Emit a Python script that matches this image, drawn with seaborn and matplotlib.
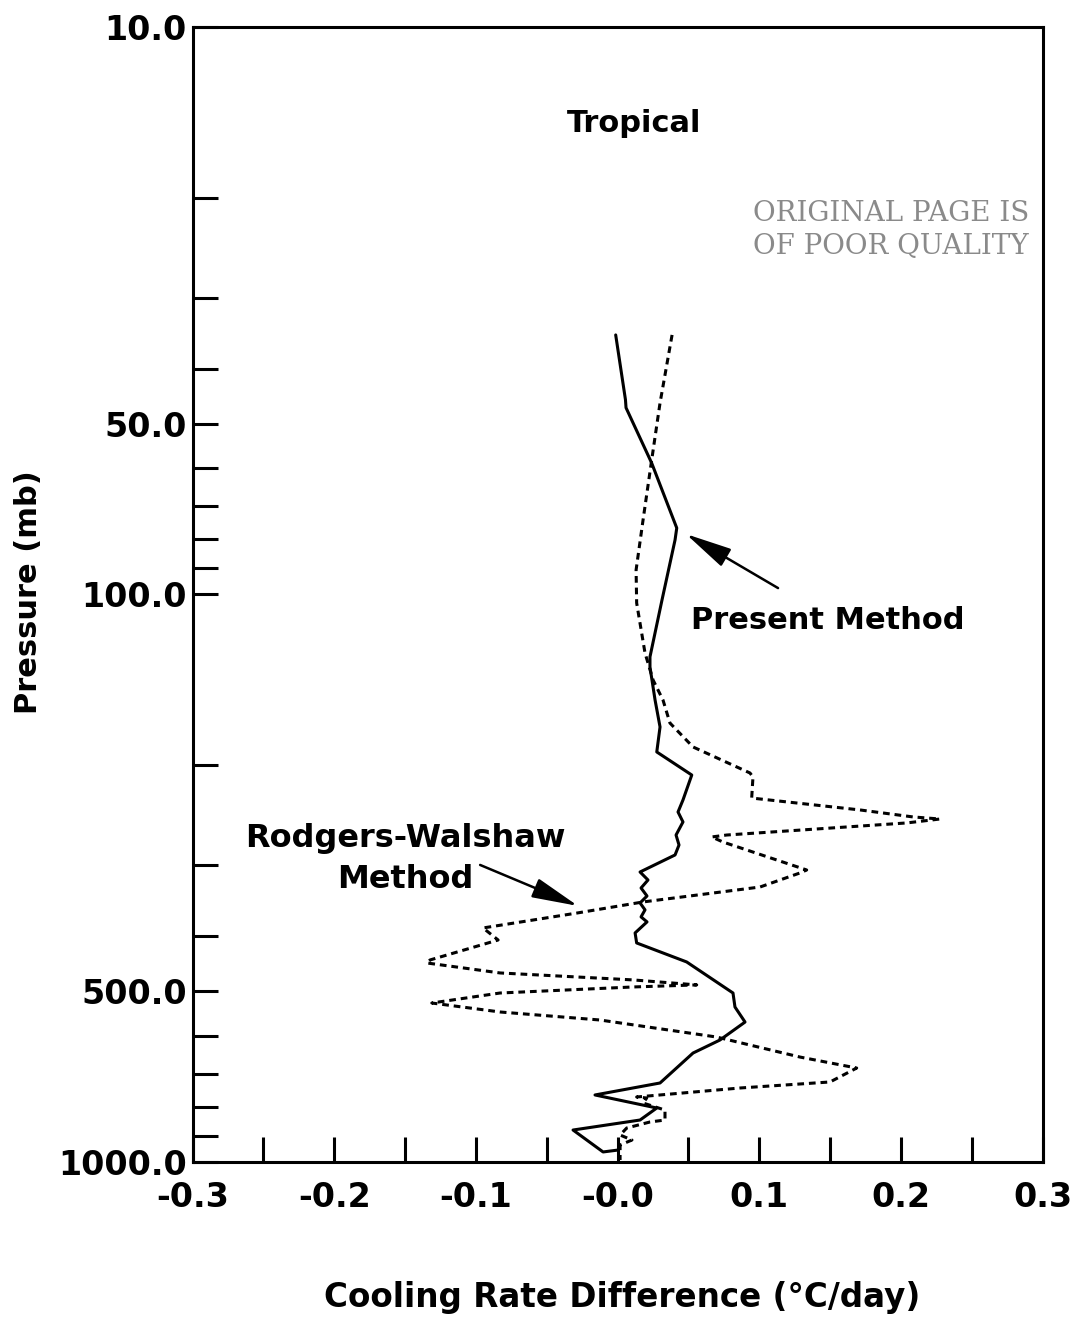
import numpy as np
import pandas as pd
import matplotlib
matplotlib.use("Agg")
import matplotlib.pyplot as plt
from matplotlib.ticker import FixedLocator, FixedFormatter, NullFormatter
import seaborn as sns

# Present method: cooling-rate difference (deg C/day) vs pressure (mb)
present_diff = [-0.0013, 0.0056, 0.0060, 0.0241, 0.0418, 0.0406, 0.0314, 0.0229,
                0.0229, 0.0265, 0.0300, 0.0277, 0.0524, 0.0462, 0.0427, 0.0462,
                0.0413, 0.0434, 0.0406, 0.0159, 0.0215, 0.0166, 0.0208, 0.0159,
                0.0194, 0.0166, 0.0208, 0.0124, 0.0135, 0.0488, 0.0815, 0.0829,
                0.0900, 0.0723, 0.0533, 0.0300, -0.0159, 0.0277, 0.0159, -0.0314,
                -0.0102, 0.0004]
present_p = [34.9, 45.4, 46.9, 58.7, 76.4, 80.2, 102.3, 128.9,
             134.3, 153.6, 171.3, 189.6, 208.2, 230.4, 241.9, 251.9,
             265.6, 276.6, 288.0, 308.6, 318.8, 329.3, 340.2, 349.9,
             359.9, 370.3, 377.9, 395.2, 411.6, 444.6, 504.3, 533.8,
             567.4, 610.3, 643.4, 726.6, 762.8, 804.2, 844.4, 879.4,
             961.3, 953.8]

# Rodgers-Walshaw method
rw_diff = [0.0385, 0.0300, 0.0241, 0.0180, 0.0131, 0.0135, 0.0194, 0.0251,
           0.0321, 0.0370, 0.0533, 0.0935, 0.0956, 0.0947, 0.1711, 0.2085,
           0.2276, 0.2041, 0.0771, 0.0665, 0.0745, 0.1335, 0.1288, 0.1006,
           0.0180, -0.0288, -0.0949, -0.0843, -0.1323, -0.1347, -0.0829, 0.0109,
           0.0559, 0.0109, -0.0829, -0.1311, -0.0829, -0.0124, 0.0700, 0.1288,
           0.1688, 0.1500, 0.0865, 0.0135, 0.0206, 0.0180, 0.0335, 0.0335,
           0.0229, 0.0065, 0.0018, 0.0102, 0.0018, 0.0018]
rw_p = [34.9, 46.0, 58.0, 74.0, 90.6, 103.6, 126.9, 141.6,
        153.6, 168.6, 185.8, 206.5, 209.9, 228.6, 239.9, 246.8,
        248.9, 252.9, 265.6, 267.7, 273.3, 306.1, 309.8, 328.0,
        348.5, 364.6, 387.3, 406.7, 441.0, 446.4, 464.9, 478.2,
        488.0, 492.1, 504.3, 525.2, 544.7, 562.7, 603.0, 654.0,
        683.8, 723.6, 741.5, 769.1, 772.2, 788.1, 811.0, 844.4,
        851.2, 872.2, 897.4, 915.8, 934.5, 993.1]

# Axis ticks and labels
p_major = [10, 50, 100, 500, 1000]
p_major_labels = ["10.0", "50.0", "100.0", "500.0", "1000.0"]
p_minor = [20, 30, 40, 60, 70, 80, 90, 200, 300, 400, 600, 700, 800, 900]
x_major = [-0.3, -0.2, -0.1, 0.0, 0.1, 0.2, 0.3]
x_major_labels = ["-0.3", "-0.2", "-0.1", "-0.0", "0.1", "0.2", "0.3"]
x_minor = [-0.25, -0.15, -0.05, 0.05, 0.15, 0.25]

sns.set_theme(style="ticks")
plt.rcParams["font.family"] = ["DejaVu Sans"]
plt.rcParams["font.weight"] = "bold"
plt.rcParams["axes.labelweight"] = "bold"

fig = plt.figure(figsize=(10.78, 13.21), dpi=100)
ax = fig.add_axes([0.1786, 0.1206, 0.7885, 0.859])
ax.set_yscale("log")

present = pd.DataFrame({"diff": present_diff, "p": present_p})
rw = pd.DataFrame({"diff": rw_diff, "p": rw_p})

lw = 2.2
sns.lineplot(data=present, x="diff", y="p", sort=False, estimator=None,
             color="black", linewidth=lw, ax=ax)
sns.lineplot(data=rw, x="diff", y="p", sort=False, estimator=None,
             color="black", linewidth=lw, linestyle=(0, (2.2, 1.6)), ax=ax)

ax.set_xlim(-0.3, 0.3)
ax.set_ylim(1000, 10)

ax.yaxis.set_major_locator(FixedLocator(p_major))
ax.yaxis.set_major_formatter(FixedFormatter(p_major_labels))
ax.yaxis.set_minor_locator(FixedLocator(p_minor))
ax.yaxis.set_minor_formatter(NullFormatter())
ax.xaxis.set_major_locator(FixedLocator(x_major))
ax.xaxis.set_major_formatter(FixedFormatter(x_major_labels))
ax.xaxis.set_minor_locator(FixedLocator(x_minor))

ax.yaxis.set_ticks_position("left")
ax.xaxis.set_ticks_position("bottom")
ax.tick_params(axis="both", which="both", direction="in", length=18,
               width=lw, color="black", labelcolor="black", labelsize=24)
ax.tick_params(axis="y", which="both", pad=4)
ax.tick_params(axis="x", which="both", pad=14)
for s in ax.spines.values():
    s.set_linewidth(lw)
    s.set_color("black")
    s.set_visible(True)

ax.set_xlabel("Cooling Rate Difference (\u00b0C/day)", fontsize=23.5,
              fontweight="bold", color="black")
ax.set_ylabel("Pressure (mb)", fontsize=22, fontweight="bold", color="black")
ax.xaxis.set_label_coords(0.505, -0.105)
ax.yaxis.set_label_coords(-0.176, 0.502)

ax.text(0.0117, 14.8, "Tropical", fontsize=22, fontweight="bold",
        ha="center", va="center", color="black")

arrow = dict(arrowstyle="-|>,head_length=1.3,head_width=0.28", color="black",
             lw=1.8, shrinkA=0, shrinkB=0, mutation_scale=22)
ax.annotate("", xy=(0.0483, 78.3), xytext=(0.1133, 97.5), arrowprops=arrow)
ax.text(0.1486, 111.0, "Present Method", fontsize=22, fontweight="bold",
        ha="center", va="center", color="black")
ax.annotate("", xy=(-0.0279, 354.2), xytext=(-0.0970, 299.9), arrowprops=arrow)
ax.text(-0.150, 293.0, "Rodgers-Walshaw\nMethod", fontsize=23,
        fontweight="bold", ha="center", va="center", multialignment="center",
        linespacing=1.4, color="black")

fig.text(0.8265, 0.8385, "ORIGINAL PAGE IS", family="DejaVu Serif",
         fontweight="normal", fontsize=20, color="#8a8a8a", ha="center",
         va="center")
fig.text(0.8265, 0.8135, "OF POOR QUALITY", family="DejaVu Serif",
         fontweight="normal", fontsize=20, color="#8a8a8a", ha="center",
         va="center")

fig.savefig("out.png", dpi=100, facecolor="white")
